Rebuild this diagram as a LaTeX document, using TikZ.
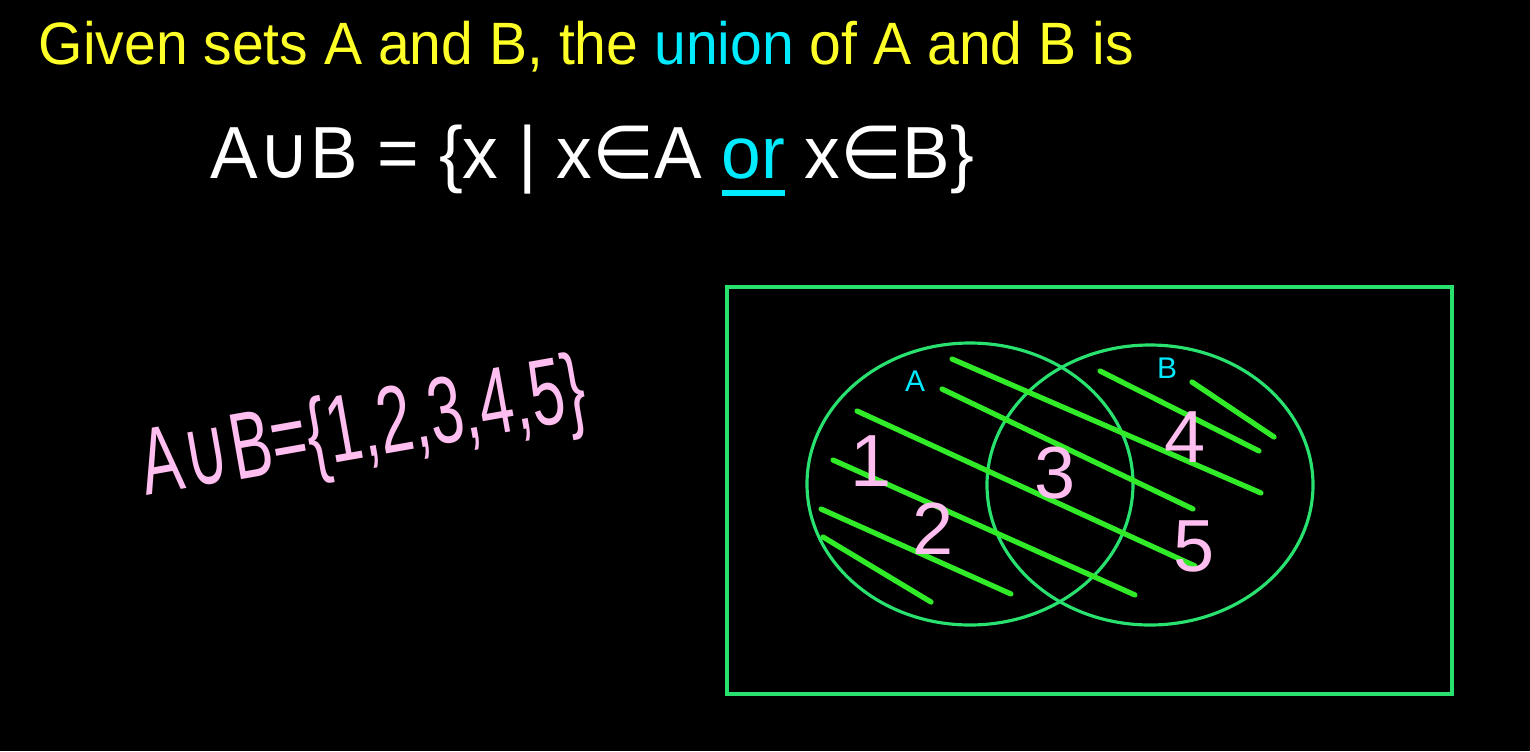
\documentclass[tikz,border=0pt]{standalone}
\usepackage{fontspec}
\setmainfont{Liberation Sans}
\newfontfamily\dvsans{DejaVu Sans}
\usetikzlibrary{positioning}
\definecolor{chalkyellow}{RGB}{255,255,40}
\definecolor{chalkcyan}{RGB}{0,235,255}
\definecolor{chalkpink}{RGB}{255,190,240}
\definecolor{venngreen}{RGB}{40,225,110}
\definecolor{hatchgreen}{RGB}{50,235,40}
\newcommand\chalkunder[1]{\setbox0\hbox{#1}\rlap{\rule[-0.25em]{\wd0}{0.09em}}\box0}

\begin{document}
\begin{tikzpicture}[x=0.01cm, y=-0.01cm,
    venn/.style={draw=venngreen, line width=0.9pt},
    hatch/.style={draw=hatchgreen, line width=1.5pt, line cap=round},
    chalk/.style={inner sep=0pt, anchor=base west},
    digit/.style={inner sep=0pt, text=chalkpink, font=\fontsize{21}{21}\selectfont},
    setname/.style={inner sep=0pt, text=chalkcyan, font=\fontsize{8.5}{9}\selectfont}
  ]
    \fill[black] (0,0) rectangle (1530,751);
    \useasboundingbox (0,0) rectangle (1530,751);

    % heading and definition
    \node[chalk, text=chalkyellow, xscale=0.955, font=\fontsize{17}{17}\selectfont] (title) at (38,64)
      {Given sets A and B, the \textcolor{chalkcyan}{union} of A and B is};
    \node[chalk, text=white, xscale=0.965, font=\fontsize{21}{21}\selectfont] (defn) at (210,178)
      {A{\dvsans ∪}B = \{x | x{\dvsans ∈}A \textcolor{chalkcyan}{\chalkunder{or}} x{\dvsans ∈}B\}};

    % example written beside the diagram
    \node[chalk, text=chalkpink, rotate=10, xscale=0.65, font=\fontsize{27}{27}\selectfont] (example) at (146,496)
      {A\kern0.04em{\dvsans ∪}\kern0.04em B=\{1,2,3,4,5\}};

    % universe and the two sets
    \draw[venn] (727,287) rectangle (1452,694);
    \draw[venn] (970,484) ellipse [x radius=163, y radius=141];
    \draw[venn] (1150,485) ellipse [x radius=163, y radius=140];

    % shading of the union
    \draw[hatch] (952,359) -- (1261,493);
    \draw[hatch] (942,389) -- (1193,509);
    \draw[hatch] (857,411) -- (1195,566);
    \draw[hatch] (833,460) -- (1135,595);
    \draw[hatch] (821,509) -- (1011,594);
    \draw[hatch] (823,537) -- (931,602);
    \draw[hatch] (1100,371) -- (1259,451);
    \draw[hatch] (1192,382) -- (1274,437);

    \node[setname] (nameA) at (915,381) {A};
    \node[setname] (nameB) at (1167,368) {B};
    \node[digit] (one) at (871,461) {1};
    \node[digit] (two) at (933,529) {2};
    \node[digit] (three) at (1055,473) {3};
    \node[digit] (four) at (1185,437) {4};
    \node[digit] (five) at (1194,546) {5};
  \end{tikzpicture}
\end{document}
